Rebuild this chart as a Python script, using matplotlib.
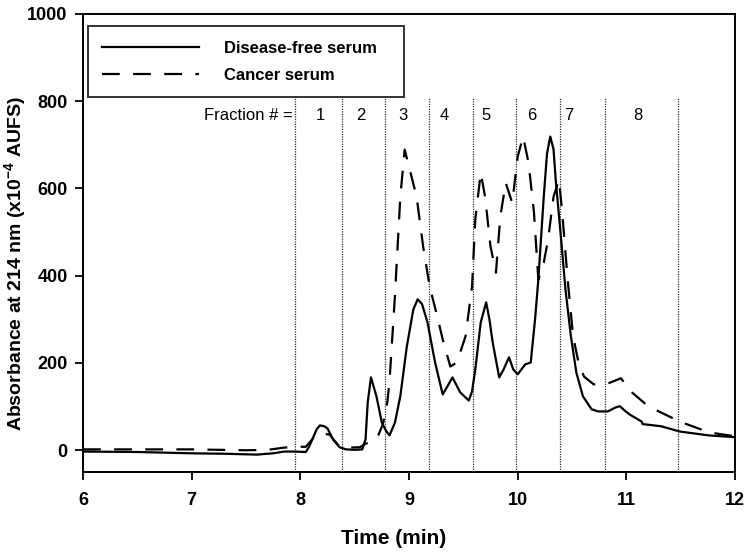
import matplotlib
matplotlib.use("Agg")
import matplotlib.pyplot as plt

plt.rcParams["font.family"] = ["Liberation Sans", "DejaVu Sans"]
plt.rcParams["mathtext.default"] = "regular"

# ---------------------------------------------------------------------------
# Data
# ---------------------------------------------------------------------------
free_t = [6.0, 6.5, 7.0, 7.3, 7.6, 7.75, 7.85, 7.95, 8.05, 8.08, 8.11, 8.15,
          8.18, 8.22, 8.25, 8.30, 8.36, 8.42, 8.50, 8.57, 8.60, 8.62, 8.65,
          8.70, 8.75, 8.79, 8.82, 8.87, 8.92, 8.98, 9.04, 9.08, 9.12, 9.17,
          9.24, 9.31, 9.35, 9.40, 9.47, 9.55, 9.58, 9.61, 9.66, 9.71, 9.74,
          9.77, 9.83, 9.87, 9.92, 9.96, 10.0, 10.07, 10.12, 10.16, 10.19,
          10.24, 10.27, 10.30, 10.33, 10.35, 10.40, 10.44, 10.49, 10.54,
          10.60, 10.68, 10.74, 10.83, 10.90, 10.94, 10.98, 11.03, 11.14,
          11.15, 11.32, 11.49, 11.76, 12.0]
free_abs = [-3, -4, -7, -8, -10, -7, -3, -3, -4, 8, 25, 48,
            57, 55, 50, 25, 7, 2, 1, 2, 25, 110, 167,
            124, 63, 44, 34, 63, 124, 238, 323, 346, 335, 293,
            201, 128, 145, 167, 133, 114, 135, 185, 293, 339, 300,
            247, 167, 185, 213, 185, 174, 197, 201, 300, 391,
            581, 680, 719, 690, 620, 483, 368, 261, 178,
            124, 94, 89, 89, 98, 101, 92, 82, 66,
            60, 55, 43, 34, 30]

cancer_t = [6.0, 6.5, 7.0, 7.5, 7.7, 7.85, 7.95, 8.05, 8.10, 8.14, 8.20, 8.27,
            8.32, 8.36, 8.45, 8.55, 8.59, 8.66, 8.71, 8.76, 8.80, 8.82, 8.87,
            8.92, 8.96, 9.01, 9.07, 9.13, 9.19, 9.26, 9.31, 9.38, 9.44, 9.52,
            9.58, 9.61, 9.66, 9.70, 9.75, 9.80, 9.84, 9.89, 9.95, 10.0, 10.05,
            10.10, 10.15, 10.19, 10.24, 10.28, 10.33, 10.38, 10.41, 10.46,
            10.51, 10.56, 10.61, 10.70, 10.83, 10.95, 11.05, 11.20, 11.39,
            11.51, 11.76, 12.0]
cancer_abs = [2, 2, 2, 0, 1, 6, 8, 8, 22, 36, 38, 36,
              20, 9, 6, 7, 14, 20, 30, 60, 110, 156, 352,
              581, 689, 640, 581, 467, 375, 307, 254, 192, 201, 261,
              375, 529, 636, 581, 467, 407, 535, 613, 567, 673, 719,
              659, 545, 391, 430, 483, 581, 620, 545, 391,
              261, 201, 169, 151, 153, 165, 133, 101, 78,
              64, 41, 32]

fraction_cuts = [7.95, 8.38, 8.78, 9.18, 9.59, 9.98, 10.39, 10.80, 11.48]
fraction_labels = ["1", "2", "3", "4", "5", "6", "7", "8"]
fraction_label_t = [8.18, 8.56, 8.94, 9.32, 9.71, 10.13, 10.47, 11.11]

# ---------------------------------------------------------------------------
# Plot
# ---------------------------------------------------------------------------
fig = plt.figure(figsize=(7.5, 5.58), dpi=100)
ax = fig.add_axes([0.1107, 0.154, 0.8693, 0.821])

for t in fraction_cuts:
    ax.plot([t, t], [-50, 810], color="#333333", lw=0.9, ls=(0, (1, 1)), zorder=1)

ax.plot(free_t, free_abs, color="black", lw=1.6, label="Disease-free serum", zorder=3)
ax.plot(cancer_t, cancer_abs, color="black", lw=1.6, dashes=(8, 6),
        label="Cancer serum", zorder=3)

ax.text(7.93, 767, "Fraction # =", ha="right", va="center", fontsize=12)
for lbl, t in zip(fraction_labels, fraction_label_t):
    ax.text(t, 767, lbl, ha="center", va="center", fontsize=12)

ax.set_xlim(6, 12)
ax.set_ylim(-50, 1000)
ax.set_xticks(range(6, 13))
ax.set_yticks(range(0, 1001, 200))
ax.tick_params(direction="out", length=6, width=1.3, labelsize=13)
ax.tick_params(axis="x", pad=8)
ax.tick_params(axis="y", pad=5)
for lab in ax.get_xticklabels() + ax.get_yticklabels():
    lab.set_fontweight("bold")
for s in ax.spines.values():
    s.set_linewidth(1.4)

ax.set_xlabel("Time (min)", fontsize=15, fontweight="bold")
ax.set_ylabel("Absorbance at 214 nm (x10$^{-4}$ AUFS)", fontsize=14,
              fontweight="bold")
ax.xaxis.set_label_coords(0.477, -0.124)
ax.yaxis.set_label_coords(-0.084, 0.455)

leg = ax.legend(loc="lower left", bbox_to_anchor=(0.008, 0.818, 0.485, 0.16),
                mode="expand", borderaxespad=0, fancybox=False,
                handlelength=5.8, handletextpad=1.5, labelspacing=0.75,
                borderpad=0.85, prop={"weight": "bold", "size": 12})
leg.get_frame().set_edgecolor("black")
leg.get_frame().set_linewidth(1.4)

fig.savefig("out.png", dpi=100)
